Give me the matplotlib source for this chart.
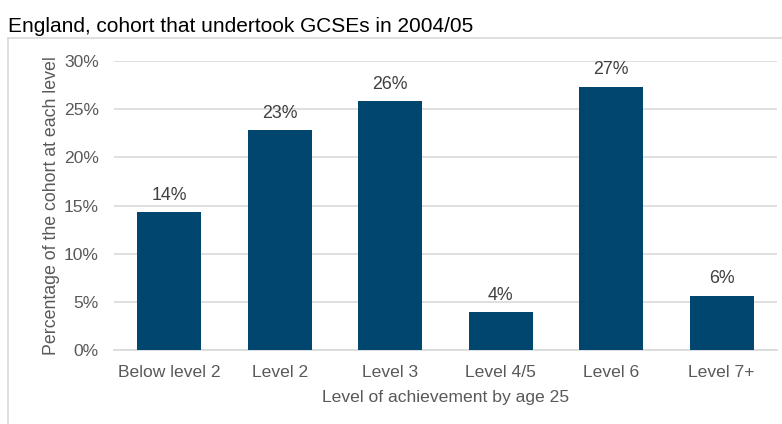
import matplotlib.pyplot as plt
from matplotlib.lines import Line2D

plt.rcParams['font.family'] = ['Liberation Sans', 'DejaVu Sans']

levels = ["Below level 2", "Level 2", "Level 3", "Level 4/5", "Level 6", "Level 7+"]
share = [14.3, 22.8, 25.8, 3.9, 27.3, 5.6]
yticks = [0, 5, 10, 15, 20, 25, 30]

W, H = 782, 424
fig = plt.figure(figsize=(W / 100, H / 100), dpi=100)
ax = fig.add_axes([114 / W, 1 - 350 / H, (777 - 114) / W, (350 - 61) / H])

bar_color = "#00466e"
ax.bar(range(len(levels)), share, width=0.58, color=bar_color, zorder=3)
for i, v in enumerate(share):
    ax.text(i, v + 0.9, f"{v:.0f}%", ha="center", va="bottom",
            fontsize=12.8, color="#404040")

ax.set_xlim(-0.5, len(levels) - 0.5)
ax.set_ylim(0, 30)
ax.set_yticks(yticks)
ax.set_yticklabels([f"{t}%" for t in yticks])
ax.set_xticks(range(len(levels)))
ax.set_xticklabels(levels)
ax.tick_params(axis="both", length=0, labelsize=12.6, labelcolor="#595959")
ax.tick_params(axis="y", pad=11)
ax.tick_params(axis="x", pad=11)
ax.grid(axis="y", color="#d9d9d9", linewidth=1.2, zorder=0)
for s in ["top", "right", "left"]:
    ax.spines[s].set_visible(False)
ax.spines["bottom"].set_color("#d9d9d9")
ax.spines["bottom"].set_linewidth(1.2)

ax.set_ylabel("Percentage of the cohort at each level", fontsize=12.8,
              color="#595959", labelpad=3)
ax.set_xlabel("Level of achievement by age 25", fontsize=12.6,
              color="#595959", labelpad=7)

fig.text(8 / W, 1 - 26 / H, "England, cohort that undertook GCSEs in 2004/05",
         fontsize=15, color="#000000", ha="left", va="center")

# light border round the chart area
fig.add_artist(Line2D([8 / W, 8 / W], [0, 1 - 38 / H], color="#d9d9d9", lw=1.2))
fig.add_artist(Line2D([8 / W, 1], [1 - 38 / H, 1 - 38 / H], color="#d9d9d9", lw=1.2))

fig.savefig("out.png", dpi=100)
